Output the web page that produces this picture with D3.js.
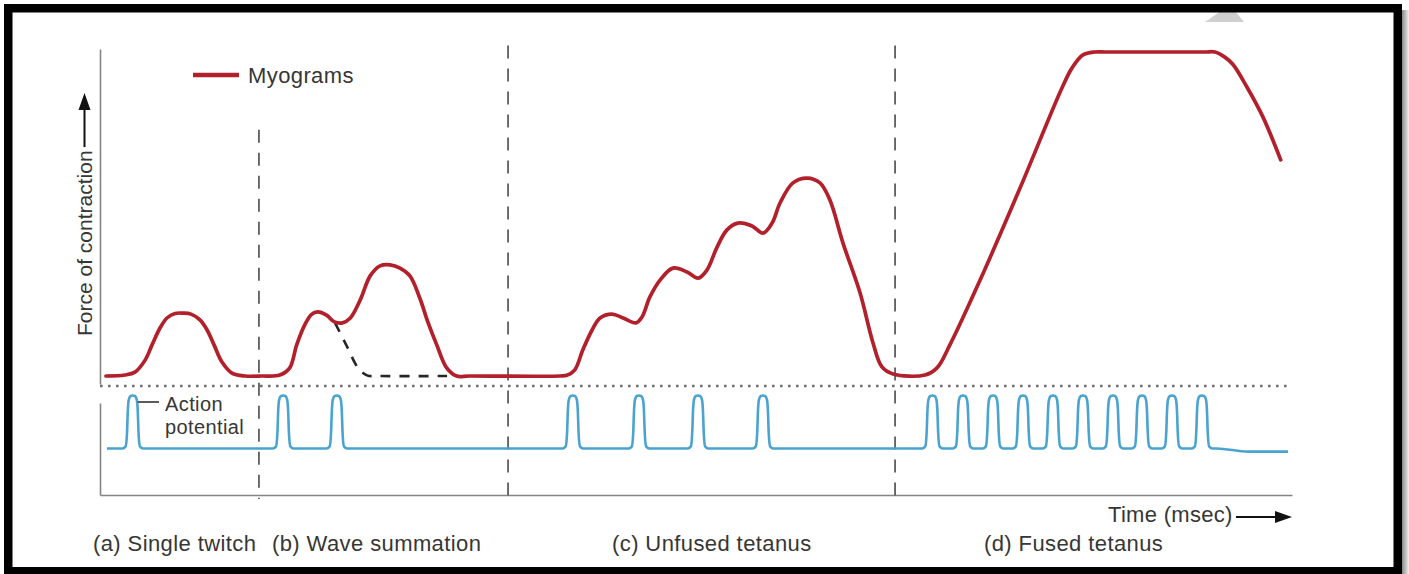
<!DOCTYPE html>
<html>
<head>
<meta charset="utf-8">
<script src="https://cdn.jsdelivr.net/npm/d3@7"></script>
<style>
  body { margin: 0; background: #fff; }
  text { font-family: "Liberation Sans", Arial, Helvetica, sans-serif; fill: #363636; }
</style>
</head>
<body>
<script>
// myogram, [time, force %] (force 100 = fused tetanus plateau)
const twitch = [[3, 0], [12.6, 0.3], [17.6, 1.2], [22.7, 4.9], [26.2, 9.6], [30.2, 14.8], [33.7, 17.9],
  [37.8, 19.3], [41.8, 19.4], [45.8, 19.1], [50.3, 17.3], [53.9, 14.2], [57.4, 9.6], [61.4, 4.3],
  [66.4, 0.9], [73, 0], [81.5, 0]];
const waveSum = [[90.5, 0.3], [95.5, 2.5], [99, 9.6], [103, 15.7], [106.5, 19], [109.5, 19.8], [114, 18.8],
  [118, 16.7], [122, 16.4], [126, 17.9], [131, 23.5], [136, 30.9], [141, 34], [146, 34.3], [151, 33.3],
  [156, 30.9], [161, 24], [165, 16.7], [169.5, 9.6], [174.5, 2.5], [179.5, 0], [186, 0]];
const unfused = [[231.5, 0], [235, 0.2], [239, 1.9], [243, 8], [247.7, 14.2], [251.7, 17.9], [257.7, 19.1],
  [263.3, 17.9], [269.8, 16.4], [272.8, 18.2], [276.8, 24.4], [281.9, 29.6], [288.4, 33.3], [295.5, 32.1],
  [301, 30.2], [305.5, 32.7], [310.6, 39.8], [315.6, 45.1], [321.1, 47.2], [328.2, 46.3], [333.7, 44.1],
  [338.3, 47.2], [342.3, 53.4], [348.8, 59.6], [355.9, 61.1], [362.4, 59.6], [367.4, 54.3], [374, 41],
  [382.6, 25.6], [389.1, 10.2], [393.6, 2.8], [399.2, 0.6]];
const fused = [[415.3, 0.3], [421.3, 2.5], [427.8, 9.6], [443, 29.6], [463.1, 58], [484.2, 88.9],
  [489.3, 95.1], [494.8, 99.1], [500.8, 100], [506, 100], [530, 100], [556, 100], [561.2, 100],
  [566, 98.5], [570.2, 96.2], [577.3, 89.2], [585.4, 79.9], [594.3, 66.7]];
// what the 2nd twitch would have done alone
const singleDecay = [[118.3, 16.4], [124.1, 9.4], [129.9, 2.5], [134.4, 0.2], [140, 0], [174.7, 0]];

// action potential times
const apTwitch = [16.5];
const apWaveSum = [92.2, 119.2];
const apUnfused = [238, 271.3, 301, 333.7];
const apFused = [419, 434.4, 449.5, 464.6, 479.7, 494.8, 509.9, 524.5, 539.6, 554.7];
const apBaseline = [[3.5, 0], [562, 0], [578, -0.06], [598, -0.06]];

// section boundaries (time) and how high the dashed line goes (force)
const dividerTimes = [80, 205.4, 400.2];
const dividerTops = [76, 102, 102];

const sectionLabels = ['(a) Single twitch', '(b) Wave summation', '(c) Unfused tetanus', '(d) Fused tetanus'];
const sectionLabelX = [93, 272, 612, 984];

const W = 1409, H = 574;
const svg = d3.select('body').append('svg').attr('width', W).attr('height', H);

const x = d3.scaleLinear().domain([0, 600]).range([100, 1292]);
const yForce = d3.scaleLinear().domain([0, 100]).range([376, 52]);
const yAP = d3.scaleLinear().domain([0, 1]).range([448.5, 396]);

const red = '#b2212b';
const blue = '#4ba3cf';

// right-side shadow of the frame
const defs = svg.append('defs');
const grad = defs.append('linearGradient').attr('id', 'shade');
grad.append('stop').attr('offset', '0%').attr('stop-color', '#8a8a8a');
grad.append('stop').attr('offset', '100%').attr('stop-color', '#f2f2f2');
svg.append('rect').attr('x', 1402).attr('y', 10).attr('width', 7).attr('height', H - 10).attr('fill', 'url(#shade)');

// faint watermark piece at the top
svg.append('polygon')
  .attr('points', '1205,22 1221,11 1235,11 1244,22')
  .attr('fill', '#cfcfcf');

// axes
svg.append('g')
  .attr('transform', 'translate(0,495)')
  .call(d3.axisBottom(x).ticks(0).tickSizeOuter(0))
  .call(g => g.select('.domain').attr('stroke', '#858585').attr('stroke-width', 1.6));

const upperAxisScale = d3.scaleLinear().domain([0, 1]).range([384, 49]);
const lowerAxisScale = d3.scaleLinear().domain([0, 1]).range([495, 403]);
[upperAxisScale, lowerAxisScale].forEach(s => {
  svg.append('g')
    .attr('transform', 'translate(100,0)')
    .call(d3.axisLeft(s).ticks(0).tickSizeOuter(0))
    .call(g => g.select('.domain').attr('stroke', '#858585').attr('stroke-width', 1.6));
});

// dotted separator
svg.append('line')
  .attr('x1', x(0)).attr('x2', x(600))
  .attr('y1', 386).attr('y2', 386)
  .attr('stroke', '#6e6e6e').attr('stroke-width', 2.6)
  .attr('stroke-dasharray', '2.6,5.4');

// dashed dividers
dividerTimes.forEach((t, i) => {
  svg.append('line')
    .attr('x1', x(t)).attr('x2', x(t))
    .attr('y1', yForce(dividerTops[i])).attr('y2', 499)
    .attr('stroke', '#5e5e5e').attr('stroke-width', 1.8)
    .attr('stroke-dasharray', '13,10');
});

// action potential trace
const baseAt = d3.scaleLinear()
  .domain(apBaseline.map(d => d[0]))
  .range(apBaseline.map(d => d[1]))
  .clamp(true);
const spikeShape = [[-5.2, 0], [-3.6, 0.04], [-2.9, 0.3], [-2.5, 0.72], [-2, 0.93], [-1.1, 1],
  [0, 1.01], [1.1, 1], [2, 0.93], [2.5, 0.72], [2.9, 0.3], [3.6, 0.04], [5.2, 0]];
const spikes = [...apTwitch, ...apWaveSum, ...apUnfused, ...apFused];
const apPoints = apBaseline.filter(d => spikes.every(s => Math.abs(d[0] - s) > 5.5)).map(d => [d[0], d[1]]);
spikes.forEach(s => {
  spikeShape.forEach(([dt, dv]) => apPoints.push([s + dt, baseAt(s + dt) + dv]));
});
apPoints.sort((a, b) => a[0] - b[0]);

svg.append('path')
  .datum(apPoints)
  .attr('fill', 'none')
  .attr('stroke', blue)
  .attr('stroke-width', 2.6)
  .attr('stroke-linejoin', 'round')
  .attr('d', d3.line().x(d => x(d[0])).y(d => yAP(d[1])).curve(d3.curveMonotoneX));

const forceLine = d3.line()
  .x(d => x(d[0]))
  .y(d => yForce(d[1]))
  .curve(d3.curveCatmullRom.alpha(0.5));

// dashed decay of a lone twitch
svg.append('path')
  .datum(singleDecay)
  .attr('fill', 'none')
  .attr('stroke', '#262626')
  .attr('stroke-width', 2.6)
  .attr('stroke-dasharray', '10,9')
  .attr('d', forceLine);

// myogram
const myogram = [...twitch, ...waveSum, ...unfused, ...fused];
svg.append('path')
  .datum(myogram)
  .attr('fill', 'none')
  .attr('stroke', red)
  .attr('stroke-width', 3.7)
  .attr('stroke-linejoin', 'round')
  .attr('stroke-linecap', 'round')
  .attr('d', forceLine);

// legend
svg.append('line').attr('x1', 193).attr('x2', 239).attr('y1', 75).attr('y2', 75)
  .attr('stroke', red).attr('stroke-width', 4.5);
svg.append('text').attr('x', 248).attr('y', 83).attr('font-size', 22)
  .attr('letter-spacing', 0.4).text('Myograms');

// action potential label
svg.append('line').attr('x1', x(apTwitch[0]) + 5).attr('x2', 159).attr('y1', 402).attr('y2', 402)
  .attr('stroke', '#333').attr('stroke-width', 1.6);
svg.append('text').attr('x', 165).attr('y', 410.5).attr('font-size', 20)
  .attr('letter-spacing', 0.4).text('Action');
svg.append('text').attr('x', 165).attr('y', 433.5).attr('font-size', 20)
  .attr('letter-spacing', 0.4).text('potential');

// y axis title with arrow
svg.append('text')
  .attr('transform', 'translate(92,336) rotate(-90)')
  .attr('font-size', 21)
  .text('Force of contraction');
svg.append('line').attr('x1', 84.5).attr('x2', 84.5).attr('y1', 147).attr('y2', 106)
  .attr('stroke', '#111').attr('stroke-width', 2);
svg.append('path').attr('d', 'M84.5,93 L78.5,110 L90.5,110 Z').attr('fill', '#111');

// x axis title with arrow
svg.append('text').attr('x', 1108).attr('y', 522).attr('font-size', 22)
  .attr('letter-spacing', 0.3).text('Time (msec)');
svg.append('line').attr('x1', 1236).attr('x2', 1278).attr('y1', 517).attr('y2', 517)
  .attr('stroke', '#111').attr('stroke-width', 2);
svg.append('path').attr('d', 'M1292,517 L1275,511 L1275,523 Z').attr('fill', '#111');

// section labels
sectionLabels.forEach((s, i) => {
  svg.append('text')
    .attr('x', sectionLabelX[i])
    .attr('y', 551)
    .attr('font-size', 22)
    .attr('letter-spacing', 0.4)
    .text(s);
});

// black frame
svg.append('rect')
  .attr('x', 8.25).attr('y', 8.25)
  .attr('width', 1389.5).attr('height', 563)
  .attr('fill', 'none')
  .attr('stroke', '#000')
  .attr('stroke-width', 8.5);
</script>
</body>
</html>
